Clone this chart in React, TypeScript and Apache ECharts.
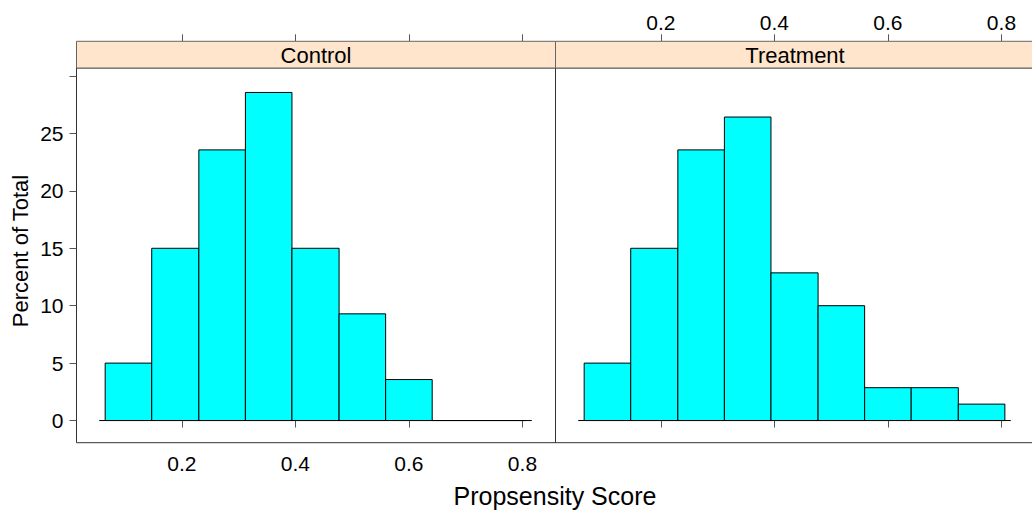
import React, { useEffect, useRef } from "react";
import * as echarts from "echarts";

// Histogram bin edges (propensity score)
const breaks = [0.065, 0.147, 0.23, 0.312, 0.394, 0.477, 0.559, 0.641, 0.724, 0.806];
// Percent of total per bin
const controlPct = [5.0, 15.0, 23.57, 28.57, 15.0, 9.29, 3.57, 0, 0];
const treatmentPct = [5.0, 15.0, 23.57, 26.43, 12.86, 10.0, 2.86, 2.86, 1.43];
const panelNames = ["Control", "Treatment"];
const xTicks = [0.2, 0.4, 0.6, 0.8];
const yTicks = [0, 5, 10, 15, 20, 25, 30];
const yLabels = [0, 5, 10, 15, 20, 25];
const xTitle = "Propsensity Score";
const yTitle = "Percent of Total";

const X_MIN = 0.0145;
const X_MAX = 0.8582;
const Y_MIN = -1.93;
const Y_MAX = 30.7;

const FONT = "'Liberation Sans', Arial, sans-serif";
const GRID_TOP = 68;
const GRID_H = 374.7;
const GRID_W = 479;
const LEFTS = [76.5, 555.5];
const STRIP_H = 26.7;

export default function App() {
  const ref = useRef<HTMLDivElement>(null);
  useEffect(() => {
    if (!ref.current) return;
    const chart = echarts.init(ref.current, null, { renderer: "svg" });
    const tickStyle = { color: "#555", width: 1 };
    const mkX = (grid: number, pos: "top" | "bottom", labels: boolean) => ({
      type: "value",
      gridIndex: grid,
      position: pos,
      offset: pos === "top" ? STRIP_H : 0,
      min: X_MIN,
      max: X_MAX,
      axisLine: { show: false },
      splitLine: { show: false },
      axisTick: { show: true, customValues: xTicks, length: 7, lineStyle: tickStyle },
      axisLabel: {
        show: labels,
        customValues: xTicks,
        fontSize: 21,
        fontFamily: FONT,
        color: "#000",
        margin: pos === "top" ? 8 : 10,
        formatter: (v: number) => String(Math.round(v * 10) / 10),
      },
    });
    const histData = (vals: number[]) =>
      vals.map((v, i) => [breaks[i], breaks[i + 1], v]);
    const renderBar = (params: any, api: any) => {
      const p0 = api.coord([api.value(0), 0]);
      const p1 = api.coord([api.value(1), api.value(2)]);
      return {
        type: "rect",
        shape: { x: p0[0], y: p1[1], width: p1[0] - p0[0], height: p0[1] - p1[1] },
        style: { fill: "#00FFFF", stroke: "#000", lineWidth: 1 },
      };
    };
    const pad = 0.0105;
    const renderBase = (params: any, api: any) => {
      const a = api.coord([api.value(0), 0]);
      const b = api.coord([api.value(1), 0]);
      return {
        type: "line",
        shape: { x1: a[0], y1: a[1], x2: b[0], y2: b[1] },
        style: { stroke: "#000", lineWidth: 1 },
      };
    };
    const series: any[] = [];
    [controlPct, treatmentPct].forEach((vals, g) => {
      series.push({
        type: "custom",
        xAxisIndex: g,
        yAxisIndex: g,
        renderItem: renderBase,
        data: [[breaks[0] - pad, breaks[breaks.length - 1] + pad]],
        encode: { x: [0, 1] },
        silent: true,
      });
      series.push({
        type: "custom",
        xAxisIndex: g,
        yAxisIndex: g,
        renderItem: renderBar,
        data: histData(vals),
        encode: { x: [0, 1], y: 2 },
        silent: true,
      });
    });
    const graphics: any[] = [];
    panelNames.forEach((name, g) => {
      graphics.push({
        type: "rect",
        shape: { x: LEFTS[g], y: GRID_TOP - STRIP_H, width: GRID_W, height: STRIP_H },
        style: { fill: "#FFE5CC", stroke: "#666", lineWidth: 1 },
        z: 1,
      });
      graphics.push({
        type: "text",
        x: LEFTS[g] + GRID_W / 2,
        y: GRID_TOP - STRIP_H / 2 + 1,
        style: {
          text: name,
          fontSize: 22,
          fontFamily: FONT,
          fill: "#000",
          align: "center",
          verticalAlign: "middle",
        },
        z: 2,
      });
    });
    graphics.push({
      type: "text",
      x: 555,
      y: 496,
      style: { text: xTitle, fontSize: 25, fontFamily: FONT, fill: "#000", align: "center", verticalAlign: "middle" },
    });
    graphics.push({
      type: "text",
      x: 20,
      y: 251,
      rotation: Math.PI / 2,
      style: { text: yTitle, fontSize: 22, fontFamily: FONT, fill: "#000", align: "center", verticalAlign: "middle" },
    });
    chart.setOption({
      animation: false,
      backgroundColor: "#fff",
      grid: LEFTS.map((l) => ({
        left: l,
        top: GRID_TOP,
        width: GRID_W,
        height: GRID_H,
        show: true,
        outerBoundsMode: "none",
        containLabel: false,
        borderColor: "#333",
        borderWidth: 1,
        backgroundColor: "transparent",
      })),
      xAxis: [mkX(0, "bottom", true), mkX(1, "bottom", false), mkX(0, "top", false), mkX(1, "top", true)],
      yAxis: [
        {
          type: "value",
          gridIndex: 0,
          position: "left",
          min: Y_MIN,
          max: Y_MAX,
          axisLine: { show: false },
          splitLine: { show: false },
          axisTick: { show: true, customValues: yTicks, length: 7, lineStyle: tickStyle },
          axisLabel: { customValues: yLabels, fontSize: 21, fontFamily: FONT, color: "#000", margin: 13 },
        },
        { type: "value", gridIndex: 1, min: Y_MIN, max: Y_MAX, show: false },
      ],
      series,
      graphic: graphics,
    });
    return () => chart.dispose();
  }, []);
  return <div ref={ref} style={{ position: "fixed", left: 0, top: 0, width: 1032, height: 515 }} />;
}
